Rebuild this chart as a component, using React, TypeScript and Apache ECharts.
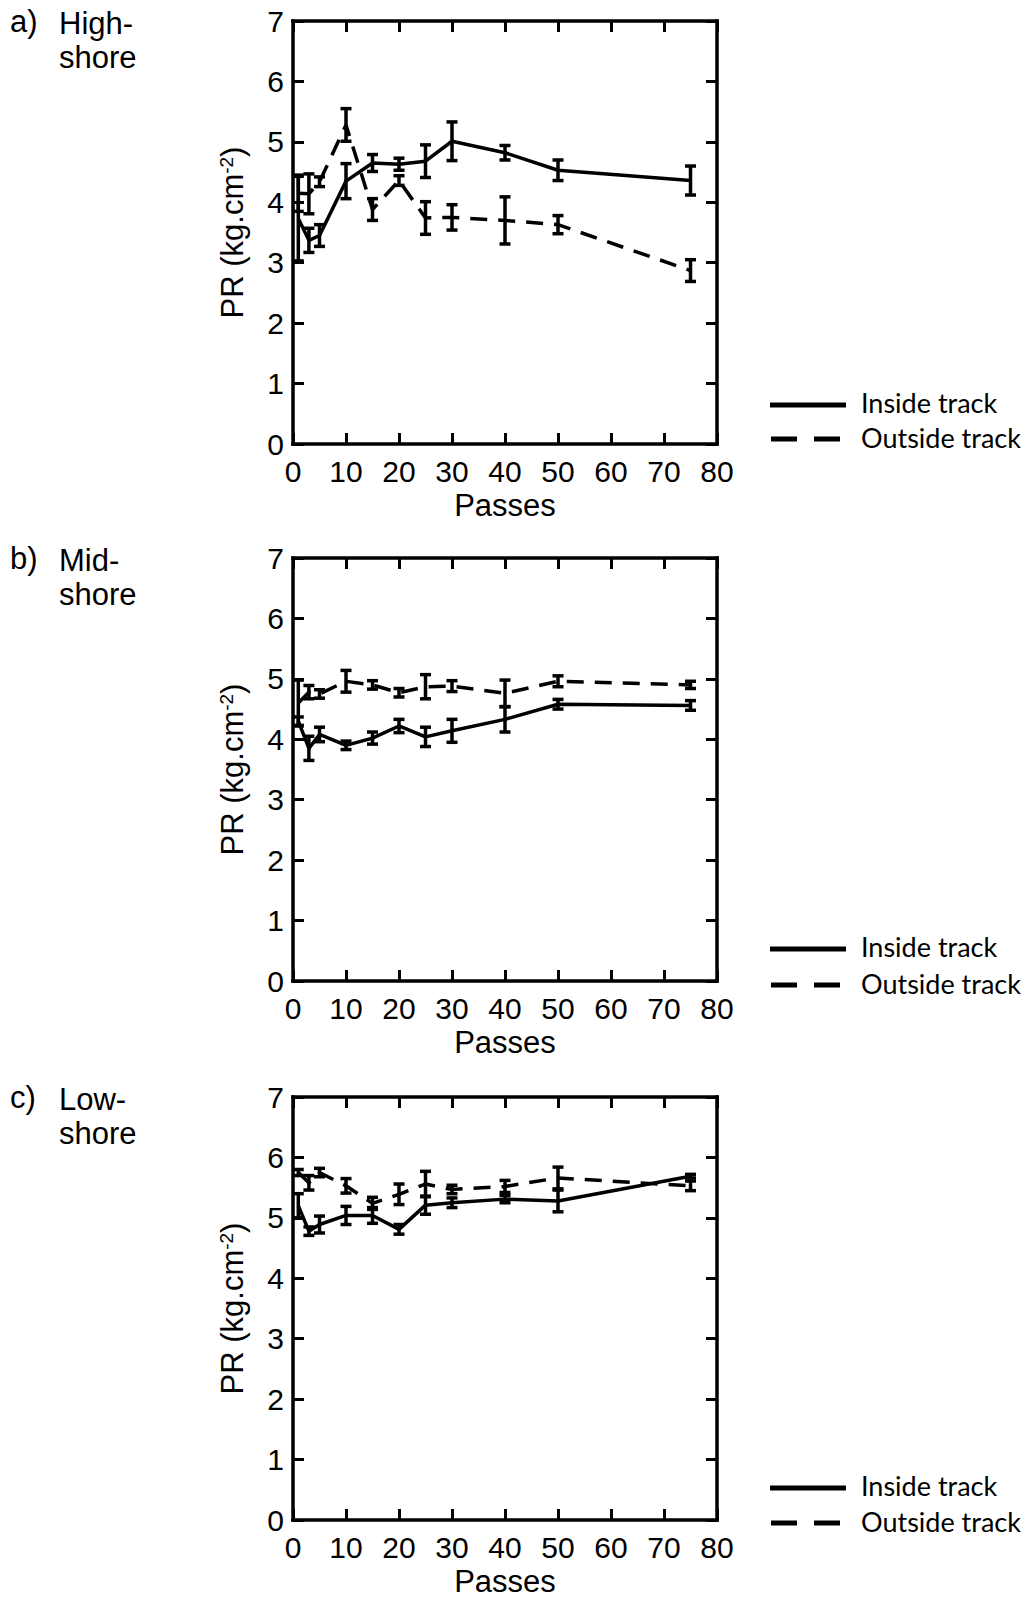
import React, { useEffect, useRef } from "react";
import * as echarts from "echarts";

// ---- Data ----
const passes = [1, 3, 5, 10, 15, 20, 25, 30, 40, 50, 75];
const xTicks = [0, 10, 20, 30, 40, 50, 60, 70, 80];
const yTicks = [0, 1, 2, 3, 4, 5, 6, 7];

const highInside = [3.73, 3.37, 3.45, 4.35, 4.65, 4.63, 4.68, 5.01, 4.82, 4.53, 4.36];
const highInsideErr = [0.7, 0.2, 0.18, 0.29, 0.14, 0.1, 0.27, 0.32, 0.12, 0.17, 0.24];
const highOutside = [4.15, 4.14, 4.34, 5.28, 3.88, 4.36, 3.74, 3.75, 3.7, 3.63, 2.87];
const highOutsideErr = [0.3, 0.33, 0.08, 0.27, 0.18, 0.08, 0.27, 0.21, 0.39, 0.15, 0.18];

const midInside = [4.3, 3.85, 4.08, 3.9, 4.02, 4.22, 4.04, 4.14, 4.33, 4.58, 4.56];
const midInsideErr = [0.07, 0.2, 0.12, 0.07, 0.1, 0.11, 0.16, 0.19, 0.21, 0.08, 0.08];
const midOutside = [4.6, 4.78, 4.75, 4.96, 4.9, 4.77, 4.87, 4.88, 4.76, 4.96, 4.9];
const midOutsideErr = [0.38, 0.11, 0.07, 0.18, 0.07, 0.07, 0.2, 0.09, 0.22, 0.09, 0.06];

const lowInside = [5.2, 4.78, 4.89, 5.04, 5.04, 4.81, 5.21, 5.25, 5.31, 5.28, 5.69];
const lowInsideErr = [0.2, 0.07, 0.14, 0.15, 0.13, 0.08, 0.15, 0.08, 0.06, 0.18, 0.03];
const lowOutside = [5.75, 5.58, 5.75, 5.53, 5.24, 5.39, 5.56, 5.47, 5.52, 5.66, 5.53];
const lowOutsideErr = [0.05, 0.12, 0.07, 0.12, 0.1, 0.17, 0.21, 0.07, 0.1, 0.18, 0.08];

const panelLetters = ["a)", "b)", "c)"];
const panelNames = ["High-\nshore", "Mid-\nshore", "Low-\nshore"];
const seriesNames = ["Inside track", "Outside track"];
const xTitle = "Passes";
const yTitle = "PR (kg.cm{sup|-2})";

const panels = [
  { inside: highInside, insideErr: highInsideErr, outside: highOutside, outsideErr: highOutsideErr },
  { inside: midInside, insideErr: midInsideErr, outside: midOutside, outsideErr: midOutsideErr },
  { inside: lowInside, insideErr: lowInsideErr, outside: lowOutside, outsideErr: lowOutsideErr },
];

// ---- Layout ----
const GRID_LEFT = 293;
const GRID_W = 424;
const GRID_H = 423;
const GRID_TOPS = [21, 558, 1097];
const LEGEND_Y = [[405, 439], [949, 985], [1488, 1523]];

const FONT = "Liberation Sans, Arial, sans-serif";
const LEGEND_FONT = "Lato, sans-serif";

function errRender(params: any, api: any) {
  const x = api.value(0);
  const lo = api.value(1);
  const hi = api.value(2);
  const pTop = api.coord([x, hi]);
  const pBot = api.coord([x, lo]);
  const w = 5.5;
  const st = { stroke: "#000", lineWidth: 3.5 };
  return {
    type: "group",
    children: [
      { type: "line", shape: { x1: pTop[0], y1: pTop[1], x2: pBot[0], y2: pBot[1] }, style: st },
      { type: "line", shape: { x1: pTop[0] - w, y1: pTop[1], x2: pTop[0] + w, y2: pTop[1] }, style: st },
      { type: "line", shape: { x1: pBot[0] - w, y1: pBot[1], x2: pBot[0] + w, y2: pBot[1] }, style: st },
    ],
  };
}

export default function App() {
  const ref = useRef<HTMLDivElement>(null);

  useEffect(() => {
    if (!ref.current) return;
    const chart = echarts.init(ref.current, undefined, { renderer: "svg" });

    const axisLine = { show: true, onZero: false, lineStyle: { color: "#000", width: 3.5, cap: "square" } };
    const axisTick = { show: true, inside: true, length: 11, lineStyle: { color: "#000", width: 3 } };

    const grid: any[] = [];
    const xAxis: any[] = [];
    const yAxis: any[] = [];
    const series: any[] = [];
    const graphic: any[] = [];

    GRID_TOPS.forEach((top) => {
      grid.push({ left: GRID_LEFT, top, width: GRID_W, height: GRID_H, containLabel: false });
    });
    // bottom x axes
    GRID_TOPS.forEach((_, i) => {
      xAxis.push({
        type: "value",
        gridIndex: i,
        position: "bottom",
        min: xTicks[0],
        max: xTicks[xTicks.length - 1],
        interval: 10,
        axisLine,
        axisTick,
        splitLine: { show: false },
        axisLabel: { show: true, color: "#000", fontSize: 30, fontFamily: FONT, margin: 12 },
        name: xTitle,
        nameLocation: "middle",
        nameGap: 46,
        nameTextStyle: { color: "#000", fontSize: 31, fontFamily: FONT },
      });
    });
    // top x axes (ticks only)
    GRID_TOPS.forEach((_, i) => {
      xAxis.push({
        type: "value",
        gridIndex: i,
        position: "top",
        min: xTicks[0],
        max: xTicks[xTicks.length - 1],
        interval: 10,
        axisLine,
        axisTick,
        splitLine: { show: false },
        axisLabel: { show: false },
      });
    });
    // left y axes
    GRID_TOPS.forEach((_, i) => {
      yAxis.push({
        type: "value",
        gridIndex: i,
        position: "left",
        min: yTicks[0],
        max: yTicks[yTicks.length - 1],
        interval: 1,
        axisLine,
        axisTick,
        splitLine: { show: false },
        axisLabel: { show: true, color: "#000", fontSize: 30, fontFamily: FONT, margin: 9 },
        name: yTitle,
        nameLocation: "middle",
        nameGap: 45,
        nameTextStyle: {
          color: "#000",
          fontSize: 31,
          fontFamily: FONT,
          rich: {
            sup: { fontSize: 19, fontFamily: FONT, color: "#000", verticalAlign: "top", padding: [0, 0, 12, 0] },
          },
        },
      });
    });
    // right y axes (ticks only)
    GRID_TOPS.forEach((_, i) => {
      yAxis.push({
        type: "value",
        gridIndex: i,
        position: "right",
        min: yTicks[0],
        max: yTicks[yTicks.length - 1],
        interval: 1,
        axisLine,
        axisTick,
        splitLine: { show: false },
        axisLabel: { show: false },
      });
    });

    panels.forEach((p, i) => {
      const lineBase = {
        type: "line",
        xAxisIndex: i,
        yAxisIndex: i,
        showSymbol: false,
        symbol: "none",
        z: 3,
      };
      series.push({
        ...lineBase,
        name: seriesNames[0],
        data: passes.map((x, k) => [x, p.inside[k]]),
        lineStyle: { color: "#000", width: 3.5, type: "solid" },
      });
      series.push({
        ...lineBase,
        name: seriesNames[1],
        data: passes.map((x, k) => [x, p.outside[k]]),
        lineStyle: { color: "#000", width: 3.5, type: [17, 11] },
      });
      series.push({
        type: "custom",
        xAxisIndex: i,
        yAxisIndex: i,
        renderItem: errRender,
        encode: { x: 0, y: [1, 2] },
        data: passes.map((x, k) => [x, p.inside[k] - p.insideErr[k], p.inside[k] + p.insideErr[k]]),
        z: 4,
      });
      series.push({
        type: "custom",
        xAxisIndex: i,
        yAxisIndex: i,
        renderItem: errRender,
        encode: { x: 0, y: [1, 2] },
        data: passes.map((x, k) => [x, p.outside[k] - p.outsideErr[k], p.outside[k] + p.outsideErr[k]]),
        z: 4,
      });

      // panel labels
      const top = GRID_TOPS[i];
      graphic.push({
        type: "text",
        left: 10,
        top: top - 15,
        style: { text: panelLetters[i], font: `31px ${FONT}`, fill: "#000" },
      });
      graphic.push({
        type: "text",
        left: 59,
        top: top - 15,
        style: { text: panelNames[i], font: `31px ${FONT}`, fill: "#000", lineHeight: 34 },
      });

      // legend
      const [ly1, ly2] = LEGEND_Y[i];
      graphic.push({
        type: "line",
        shape: { x1: 770, y1: ly1, x2: 846, y2: ly1 },
        style: { stroke: "#000", lineWidth: 5 },
      });
      graphic.push({
        type: "line",
        shape: { x1: 771, y1: ly2, x2: 846, y2: ly2 },
        style: { stroke: "#000", lineWidth: 5, lineDash: [26, 17] },
      });
      graphic.push({
        type: "text",
        x: 861,
        y: ly1 - 3,
        style: { text: seriesNames[0], font: `27px ${LEGEND_FONT}`, fill: "#000", verticalAlign: "middle" },
      });
      graphic.push({
        type: "text",
        x: 861,
        y: ly2 - 2,
        style: { text: seriesNames[1], font: `27px ${LEGEND_FONT}`, fill: "#000", verticalAlign: "middle" },
      });
    });

    chart.setOption({
      animation: false,
      backgroundColor: "#fff",
      grid,
      xAxis,
      yAxis,
      series,
      graphic,
    });

    return () => chart.dispose();
  }, []);

  return (
    <div
      ref={ref}
      style={{ position: "absolute", left: 0, top: 0, width: 1030, height: 1602, background: "#fff" }}
    />
  );
}
